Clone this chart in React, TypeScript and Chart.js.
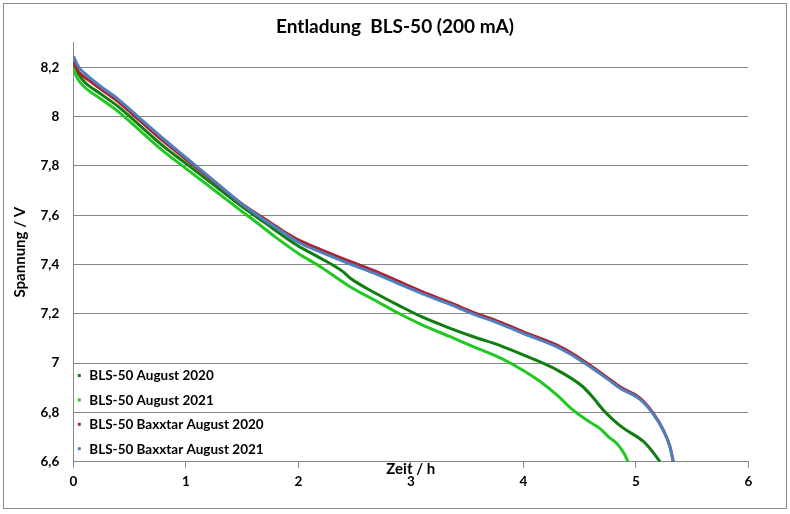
import { useEffect, useRef } from "react";
import { Chart, registerables } from "chart.js";

Chart.register(...registerables);

const chartTitle = "Entladung  BLS-50 (200 mA)";
const xAxisTitle = "Zeit / h";
const yAxisTitle = "Spannung / V";

const seriesLabels = [
  "BLS-50 August 2020",
  "BLS-50 August 2021",
  "BLS-50 Baxxtar August 2020",
  "BLS-50 Baxxtar August 2021",
];
const seriesColors = ["#107d10", "#22c822", "#b0202a", "#4f7fbf"];

const bls2020Time = [0, 0.05, 0.1, 0.25, 0.4, 0.6, 0.8, 1.0, 1.26, 1.5, 1.7, 2.0, 2.16, 2.4, 2.46, 2.7, 2.9, 3.1, 3.35, 3.55, 3.8, 4.0, 4.3, 4.53, 4.62, 4.71, 4.8, 4.89, 5.07, 5.15, 5.215];
const bls2020Volt = [8.215, 8.17, 8.14, 8.09, 8.04, 7.96, 7.88, 7.81, 7.719, 7.635, 7.57, 7.475, 7.435, 7.37, 7.345, 7.28, 7.232, 7.187, 7.141, 7.108, 7.07, 7.033, 6.972, 6.904, 6.86, 6.81, 6.77, 6.736, 6.681, 6.64, 6.6];

const bls2021Time = [0, 0.03, 0.1, 0.25, 0.4, 0.6, 0.8, 1.0, 1.26, 1.5, 1.63, 1.8, 2.0, 2.2, 2.46, 2.7, 2.9, 3.1, 3.35, 3.55, 3.8, 4.0, 4.15, 4.3, 4.44, 4.56, 4.68, 4.76, 4.83, 4.9, 4.93];
const bls2021Volt = [8.2, 8.16, 8.12, 8.07, 8.02, 7.94, 7.86, 7.79, 7.699, 7.615, 7.57, 7.51, 7.445, 7.39, 7.31, 7.25, 7.2, 7.155, 7.107, 7.068, 7.02, 6.97, 6.925, 6.87, 6.81, 6.77, 6.735, 6.7, 6.675, 6.63, 6.6];

const baxx2020Time = [0, 0.05, 0.1, 0.25, 0.4, 0.6, 0.8, 1.0, 1.26, 1.5, 1.7, 1.85, 2.0, 2.2, 2.46, 2.7, 2.9, 3.1, 3.35, 3.55, 3.8, 4.0, 4.3, 4.45, 4.59, 4.75, 4.86, 5.04, 5.156, 5.244, 5.304, 5.333];
const baxx2020Volt = [8.225, 8.18, 8.16, 8.11, 8.06, 7.98, 7.9, 7.827, 7.733, 7.645, 7.585, 7.54, 7.5, 7.46, 7.412, 7.37, 7.33, 7.29, 7.245, 7.207, 7.165, 7.127, 7.073, 7.035, 6.992, 6.94, 6.904, 6.857, 6.796, 6.729, 6.66, 6.6];

const baxx2021Time = [0, 0.05, 0.1, 0.25, 0.4, 0.6, 0.8, 1.0, 1.26, 1.5, 1.7, 1.85, 2.0, 2.2, 2.46, 2.7, 2.9, 3.1, 3.35, 3.55, 3.8, 4.0, 4.3, 4.45, 4.59, 4.75, 4.86, 5.04, 5.156, 5.244, 5.304, 5.333];
const baxx2021Volt = [8.245, 8.2, 8.176, 8.12, 8.07, 7.99, 7.91, 7.834, 7.736, 7.645, 7.58, 7.535, 7.49, 7.45, 7.402, 7.36, 7.32, 7.282, 7.238, 7.2, 7.158, 7.12, 7.066, 7.028, 6.986, 6.935, 6.898, 6.852, 6.793, 6.727, 6.66, 6.6];

const xTickValues = [0, 1, 2, 3, 4, 5, 6];
const yTickValues = [6.6, 6.8, 7, 7.2, 7.4, 7.6, 7.8, 8, 8.2];
const xMin = 0;
const xMax = 6;
const yMin = 6.6;
const yMax = 8.3;

const FONT = "Lato, 'Open Sans', 'Liberation Sans', sans-serif";
const GRID = "#878787";

const zip = (t: number[], v: number[]) => t.map((x, i) => ({ x, y: v[i] }));

const frameTitleLegend = {
  id: "frameTitleLegend",
  beforeDraw(chart: any) {
    const ctx = chart.ctx;
    ctx.save();
    ctx.fillStyle = "#ffffff";
    ctx.fillRect(0, 0, chart.width, chart.height);
    ctx.strokeStyle = "#8c8c8c";
    ctx.lineWidth = 1;
    ctx.strokeRect(3.5, 3.5, 783, 505);
    ctx.restore();
  },
  afterDraw(chart: any) {
    const ctx = chart.ctx;
    const area = chart.chartArea;
    ctx.save();
    ctx.fillStyle = "#000000";
    ctx.font = `bold 19px ${FONT}`;
    ctx.textAlign = "center";
    ctx.textBaseline = "middle";
    ctx.fillText(chartTitle, 395, 27);

    ctx.font = `bold 13.5px ${FONT}`;
    ctx.textBaseline = "middle";
    ctx.textAlign = "left";
    const x0 = area.left + 6;
    const top = 375.5;
    const gap = 24.4;
    chart.data.datasets.forEach((ds: any, i: number) => {
      const y = top + i * gap;
      ctx.fillStyle = ds.borderColor;
      ctx.fillRect(x0 - 1.5, y - 1.5, 3, 3);
      ctx.fillStyle = "#000000";
      ctx.fillText(ds.label, x0 + 10, y + 0.5);
    });
    ctx.restore();
  },
};

export default function App() {
  const ref = useRef<HTMLCanvasElement | null>(null);

  useEffect(() => {
    if (!ref.current) return;
    const series = [
      zip(bls2020Time, bls2020Volt),
      zip(bls2021Time, bls2021Volt),
      zip(baxx2020Time, baxx2020Volt),
      zip(baxx2021Time, baxx2021Volt),
    ];
    const chart = new Chart(ref.current, {
      type: "line",
      data: {
        datasets: series.map((data, i) => ({
          label: seriesLabels[i],
          data,
          borderColor: seriesColors[i],
          backgroundColor: seriesColors[i],
          borderWidth: 3,
          pointRadius: 0,
          fill: false,
          cubicInterpolationMode: "monotone" as const,
          order: 4 - i,
        })),
      },
      options: {
        responsive: false,
        animation: false,
        events: [],
        layout: { padding: { left: 0, right: 41.7, top: 42.6, bottom: 0 } },
        plugins: {
          legend: { display: false },
          tooltip: { enabled: false },
          title: { display: false },
        },
        scales: {
          x: {
            type: "linear",
            min: xMin,
            max: xMax,
            afterBuildTicks: (s: any) => {
              s.ticks = xTickValues.map((value) => ({ value }));
            },
            afterFit: (s: any) => {
              s.height = 52.3;
            },
            grid: { drawOnChartArea: false, drawTicks: true, tickLength: 6, color: GRID },
            border: { color: GRID, width: 1 },
            ticks: {
              color: "#000000",
              font: { family: FONT, size: 13.5, weight: "bold" },
              padding: 6,
              maxRotation: 0,
            },
            title: {
              display: true,
              text: xAxisTitle,
              color: "#000000",
              font: { family: FONT, size: 15, weight: "bold" },
              padding: { top: 0, bottom: 36 },
            },
          },
          y: {
            type: "linear",
            min: yMin,
            max: yMax,
            afterBuildTicks: (s: any) => {
              s.ticks = yTickValues.map((value) => ({ value }));
            },
            afterFit: (s: any) => {
              s.width = 73.3;
            },
            grid: { drawTicks: false, color: GRID, lineWidth: 1 },
            border: { color: GRID, width: 1 },
            ticks: {
              color: "#000000",
              font: { family: FONT, size: 13.5, weight: "bold" },
              padding: 14,
              callback: (v: any) => String(v).replace(".", ","),
            },
            title: {
              display: true,
              text: yAxisTitle,
              color: "#000000",
              font: { family: FONT, size: 15, weight: "bold" },
              padding: { top: 11, bottom: 0 },
            },
          },
        },
      },
      plugins: [frameTitleLegend],
    });
    return () => chart.destroy();
  }, []);

  return (
    <div style={{ position: "absolute", left: 0, top: 0, width: 790, height: 514, background: "#fff" }}>
      <canvas ref={ref} width={790} height={514} style={{ display: "block", width: 790, height: 514 }} />
    </div>
  );
}
